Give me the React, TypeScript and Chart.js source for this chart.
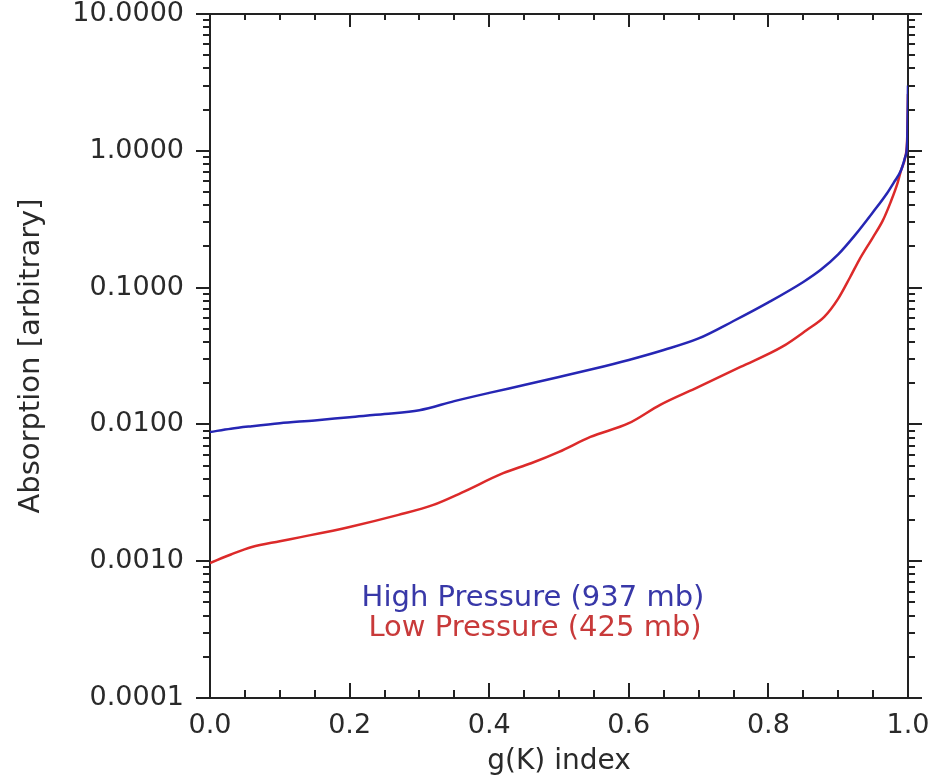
import React, { useEffect, useRef } from "react";
import { Chart, registerables } from "chart.js";

Chart.register(...registerables);

// ---- data ----
const G_HIGH = [0, 0.03, 0.06, 0.1, 0.15, 0.2, 0.25, 0.3, 0.35, 0.4, 0.45, 0.5, 0.55, 0.6, 0.65, 0.7, 0.75, 0.8, 0.85, 0.875, 0.9, 0.925, 0.95, 0.97, 0.98, 0.99, 0.996, 0.999, 1.0];
const ABS_HIGH = [0.0088, 0.0093, 0.0097, 0.0102, 0.0107, 0.0113, 0.0119, 0.0127, 0.0148, 0.017, 0.0194, 0.0222, 0.0255, 0.0296, 0.035, 0.0425, 0.057, 0.078, 0.11, 0.135, 0.175, 0.245, 0.357, 0.49, 0.59, 0.72, 0.9, 1.2, 3.0];

const G_LOW = [0, 0.03, 0.06, 0.1, 0.13, 0.2, 0.27, 0.32, 0.36, 0.42, 0.46, 0.5, 0.545, 0.6, 0.645, 0.7, 0.76, 0.82, 0.855, 0.88, 0.9, 0.917, 0.93, 0.95, 0.964, 0.975, 0.985, 0.99, 0.996, 0.999, 1.0];
const ABS_LOW = [0.00097, 0.00112, 0.00127, 0.0014, 0.0015, 0.00178, 0.00218, 0.00258, 0.00316, 0.0044, 0.0052, 0.0063, 0.0081, 0.0102, 0.0139, 0.0188, 0.0263, 0.037, 0.049, 0.061, 0.083, 0.119, 0.159, 0.234, 0.31, 0.42, 0.58, 0.72, 0.9, 1.3, 2.6];

const X_MAJOR_TICKS = [0, 0.2, 0.4, 0.6, 0.8, 1.0];
const Y_DECADES = [0.0001, 0.001, 0.01, 0.1, 1, 10];

const SERIES_LABELS = ["High Pressure (937 mb)", "Low Pressure (425 mb)"];
const X_TITLE = "g(K) index";
const Y_TITLE = "Absorption [arbitrary]";

// ---- styles ----
const AXIS_COLOR = "#222222";
const TEXT_COLOR = "#2a2a2a";
const BLUE = "#2626b4";
const RED = "#dc2a2a";
const BLUE_TEXT = "#3838a8";
const RED_TEXT = "#c83a3a";
const FONT_FAMILY = "'DejaVu Sans', sans-serif";

function xMinorTicks(): number[] {
  const out: number[] = [];
  for (let i = 0; i < X_MAJOR_TICKS.length - 1; i++) {
    const a = X_MAJOR_TICKS[i];
    const b = X_MAJOR_TICKS[i + 1];
    for (let k = 1; k < 4; k++) out.push(a + ((b - a) * k) / 4);
  }
  return out;
}

function yMinorTicks(): number[] {
  const out: number[] = [];
  for (let i = 0; i < Y_DECADES.length - 1; i++) {
    for (let k = 2; k <= 9; k++) out.push(Y_DECADES[i] * k);
  }
  return out;
}

const tickMarksPlugin = {
  id: "tickMarks",
  afterDraw(chart: any) {
    const { ctx, chartArea: a } = chart;
    const xs = chart.scales.x;
    const ys = chart.scales.y;
    ctx.save();
    ctx.strokeStyle = AXIS_COLOR;
    ctx.lineWidth = 2;
    ctx.beginPath();
    const xt: Array<[number, boolean]> = [
      ...X_MAJOR_TICKS.map((v) => [v, true] as [number, boolean]),
      ...xMinorTicks().map((v) => [v, false] as [number, boolean]),
    ];
    for (const [v, major] of xt) {
      const px = Math.round(xs.getPixelForValue(v));
      ctx.moveTo(px, a.bottom);
      ctx.lineTo(px, a.bottom - (major ? 15 : 8));
      ctx.moveTo(px, a.top);
      ctx.lineTo(px, a.top + (major ? 13 : 6));
    }
    const yt: Array<[number, boolean]> = [
      ...Y_DECADES.map((v) => [v, true] as [number, boolean]),
      ...yMinorTicks().map((v) => [v, false] as [number, boolean]),
    ];
    for (const [v, major] of yt) {
      const py = Math.round(ys.getPixelForValue(v));
      ctx.moveTo(a.left, py);
      ctx.lineTo(a.left - (major ? 14 : 7), py);
      ctx.moveTo(a.right, py);
      ctx.lineTo(a.right + (major ? 14 : 7), py);
    }
    ctx.stroke();

    // in-plot series labels
    ctx.font = `29px ${FONT_FAMILY}`;
    ctx.textAlign = "center";
    ctx.textBaseline = "middle";
    ctx.fillStyle = BLUE_TEXT;
    ctx.fillText(SERIES_LABELS[0], 533, 598);
    ctx.fillStyle = RED_TEXT;
    ctx.fillText(SERIES_LABELS[1], 535, 628);
    ctx.restore();
  },
};

export default function App() {
  const ref = useRef<HTMLCanvasElement>(null);

  useEffect(() => {
    document.body.style.margin = "0";
    const canvas = ref.current;
    if (!canvas) return;

    const zeroPad = (s: any) => {
      s.paddingLeft = 0;
      s.paddingRight = 0;
      s.paddingTop = 0;
      s.paddingBottom = 0;
    };

    const chart = new Chart(canvas, {
      type: "line",
      data: {
        datasets: [
          {
            label: SERIES_LABELS[0],
            data: G_HIGH.map((g, i) => ({ x: g, y: ABS_HIGH[i] })),
            borderColor: BLUE,
            backgroundColor: BLUE,
            borderWidth: 2.5,
            pointRadius: 0,
            cubicInterpolationMode: "monotone",
            xAxisID: "x",
            yAxisID: "y",
          },
          {
            label: SERIES_LABELS[1],
            data: G_LOW.map((g, i) => ({ x: g, y: ABS_LOW[i] })),
            borderColor: RED,
            backgroundColor: RED,
            borderWidth: 2.5,
            pointRadius: 0,
            cubicInterpolationMode: "monotone",
            xAxisID: "x",
            yAxisID: "y",
          },
        ],
      },
      options: {
        responsive: false,
        animation: false,
        layout: { padding: 0 },
        plugins: {
          legend: { display: false },
          tooltip: { enabled: false },
        },
        scales: {
          x: {
            type: "linear",
            position: "bottom",
            min: 0,
            max: 1,
            afterBuildTicks: (s: any) => {
              s.ticks = X_MAJOR_TICKS.map((v) => ({ value: v }));
            },
            afterFit: (s: any) => {
              s.height = 79;
              zeroPad(s);
            },
            ticks: {
              autoSkip: false,
              maxRotation: 0,
              padding: 12,
              color: TEXT_COLOR,
              font: { family: FONT_FAMILY, size: 27 },
              callback: (v: any) => Number(v).toFixed(1),
            },
            grid: { display: false, drawTicks: false, tickLength: 0 },
            border: { display: true, color: AXIS_COLOR, width: 2 },
            title: {
              display: true,
              text: X_TITLE,
              color: TEXT_COLOR,
              font: { family: FONT_FAMILY, size: 28, lineHeight: 1 },
              padding: { top: 0, bottom: 1 },
            },
          },
          x2: {
            type: "linear",
            position: "top",
            min: 0,
            max: 1,
            afterFit: (s: any) => {
              s.height = 14;
              zeroPad(s);
            },
            ticks: { display: false },
            grid: { display: false, drawTicks: false, tickLength: 0 },
            border: { display: true, color: AXIS_COLOR, width: 2 },
          },
          y: {
            type: "logarithmic",
            position: "left",
            min: 0.0001,
            max: 10,
            afterBuildTicks: (s: any) => {
              s.ticks = Y_DECADES.map((v) => ({ value: v, major: true }));
            },
            afterFit: (s: any) => {
              s.width = 210;
              zeroPad(s);
            },
            ticks: {
              autoSkip: false,
              padding: 26,
              color: TEXT_COLOR,
              font: { family: FONT_FAMILY, size: 27 },
              callback: (v: any) => Number(v).toFixed(4),
            },
            grid: { display: false, drawTicks: false, tickLength: 0 },
            border: { display: true, color: AXIS_COLOR, width: 2 },
            title: {
              display: true,
              text: Y_TITLE,
              color: TEXT_COLOR,
              font: { family: FONT_FAMILY, size: 29, lineHeight: 1 },
              padding: { top: 17, bottom: 0 },
            },
          },
          y2: {
            type: "logarithmic",
            position: "right",
            min: 0.0001,
            max: 10,
            afterFit: (s: any) => {
              s.width = 35;
              zeroPad(s);
            },
            ticks: { display: false },
            grid: { display: false, drawTicks: false, tickLength: 0 },
            border: { display: true, color: AXIS_COLOR, width: 2 },
          },
        },
      } as any,
      plugins: [tickMarksPlugin],
    });

    return () => chart.destroy();
  }, []);

  return (
    <div style={{ width: 943, height: 777, position: "relative", overflow: "hidden", background: "#fff" }}>
      <canvas ref={ref} width={943} height={777} style={{ display: "block" }} />
    </div>
  );
}
